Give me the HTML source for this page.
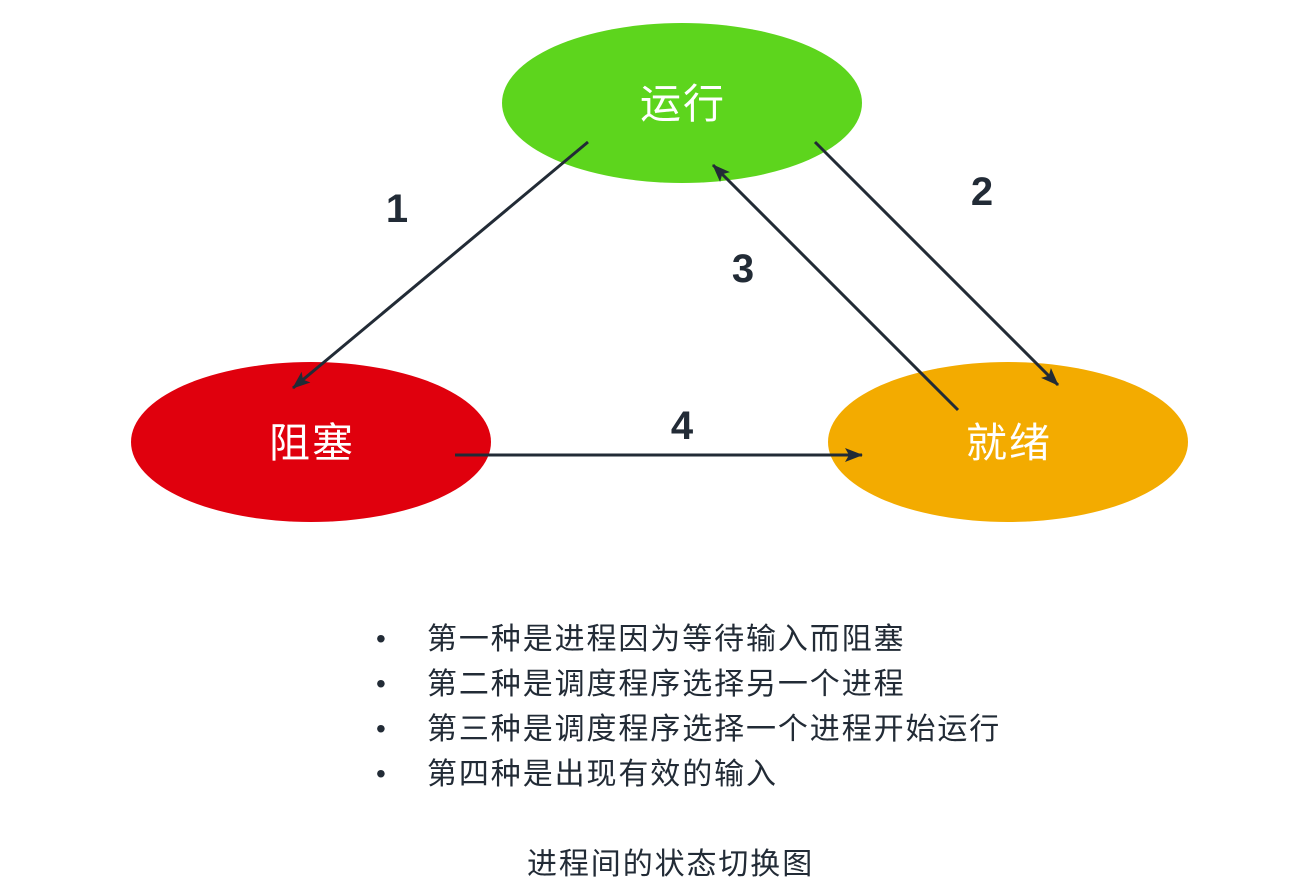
<!DOCTYPE html>
<html><head><meta charset="utf-8"><style>
body{margin:0;width:1300px;height:894px;background:#fff;overflow:hidden}
svg{position:absolute;left:0;top:0}
</style></head><body>
<svg width="1300" height="894" viewBox="0 0 1300 894" font-family="Liberation Sans, Noto Sans CJK SC, sans-serif">
<defs><marker id="a" viewBox="0 0 18 14" refX="17" refY="7" markerWidth="18" markerHeight="14" markerUnits="userSpaceOnUse" orient="auto"><path d="M0,0 L18,7 L0,14 L4,7 Z" fill="#222b36"/></marker></defs>
<ellipse cx="682" cy="103" rx="180" ry="80" fill="#5dd51d"/>
<ellipse cx="311" cy="442" rx="180" ry="80" fill="#e0000d"/>
<ellipse cx="1008" cy="442" rx="180" ry="80" fill="#f3ab00"/>
<g font-size="41" fill="#fff" text-anchor="middle" letter-spacing="2">
<text x="683" y="118">运行</text>
<text x="312" y="457">阻塞</text>
<text x="1009" y="457">就绪</text>
</g>
<g stroke="#222b36" stroke-width="3" marker-end="url(#a)">
<line x1="588" y1="142" x2="293" y2="388"/>
<line x1="815" y1="142" x2="1058" y2="385"/>
<line x1="958" y1="410" x2="713" y2="165"/>
<line x1="455" y1="455" x2="862" y2="455"/>
</g>
<g font-size="40" font-weight="bold" fill="#222b36" text-anchor="middle">
<text x="397" y="222">1</text><text x="982" y="205">2</text><text x="743" y="282">3</text><text x="682" y="439">4</text>
</g>
<g font-size="30" fill="#222b36" letter-spacing="1.9">
<text x="376" y="648" letter-spacing="0" font-size="28">•</text><text x="427" y="649">第一种是进程因为等待输入而阻塞</text>
<text x="376" y="693" letter-spacing="0" font-size="28">•</text><text x="427" y="694">第二种是调度程序选择另一个进程</text>
<text x="376" y="738" letter-spacing="0" font-size="28">•</text><text x="427" y="739">第三种是调度程序选择一个进程开始运行</text>
<text x="376" y="783" letter-spacing="0" font-size="28">•</text><text x="427" y="784">第四种是出现有效的输入</text>
<text x="527" y="874">进程间的状态切换图</text>
</g>
</svg>
</body></html>
